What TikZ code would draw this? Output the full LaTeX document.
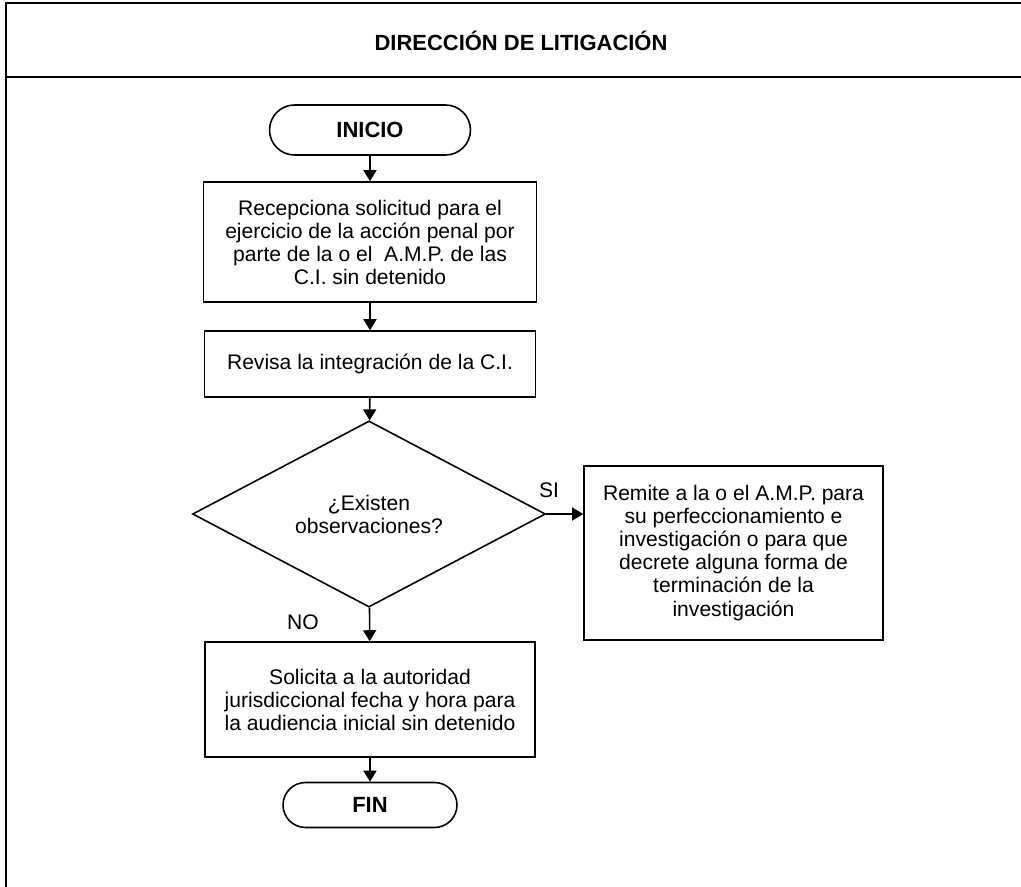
\documentclass[tikz,border=0pt]{standalone}
\usepackage{fontspec}
\setmainfont{Liberation Sans}
\usetikzlibrary{arrows.meta, positioning, shapes.geometric, shapes.misc}
\definecolor{inkline}{HTML}{000000}
\definecolor{inktext}{HTML}{000000}
\newcommand{\textsz}{\fontsize{12}{13.1}\selectfont}
\newcommand{\headsz}{\fontsize{12.5}{14}\selectfont\bfseries}

\begin{document}
\begin{tikzpicture}[x=0.02cm, y=-0.02cm, font=\textsz, text=inktext,
    procbox/.style={draw=inkline, line width=0.9pt, align=center, inner sep=0pt},
    termbox/.style={draw=inkline, line width=0.9pt, rounded rectangle, inner sep=0pt, font=\headsz},
    askbox/.style={draw=inkline, line width=0.9pt, diamond, align=center, inner sep=0pt},
    flow/.style={-{Triangle[length=0.22cm, width=0.26cm]}, inkline, line width=0.9pt}]
  \clip (0,0) rectangle (1021,886);
  % marco del area
  \draw[inkline, line width=1.3pt] (6,900) -- (6,3) -- (1040,3);
  \draw[inkline, line width=1.3pt] (6,77) -- (1040,77);
  \node[font=\headsz] (titulo) at (521,41) {DIRECCIÓN DE LITIGACIÓN};
  % pasos
  \node[termbox, minimum width=4.02cm, minimum height=1cm] (inicio) at (370,130) {INICIO};
  \node[procbox, minimum width=6.66cm, minimum height=2.4cm] (recibe) at (370,242)
    {Recepciona solicitud para el\\ejercicio de la acción penal por\\parte de la o el\ \ A.M.P. de las\\C.I. sin detenido};
  \node[procbox, minimum width=6.62cm, minimum height=1.32cm] (revisa) at (370,364)
    {Revisa la integración de la C.I.};
  \node[askbox, minimum width=7.06cm, minimum height=3.52cm] (existen) at (369,514)
    {¿Existen\\observaciones?};
  \node[procbox, minimum width=5.98cm, minimum height=3.48cm] (remite) at (733.5,553)
    {Remite a la o el A.M.P. para\\su perfeccionamiento e\\investigación o para que\\decrete alguna forma de\\terminación de la\\investigación};
  \node[procbox, minimum width=6.6cm, minimum height=2.3cm] (solicita) at (370,699.5)
    {Solicita a la autoridad\\jurisdiccional fecha y hora para\\la audiencia inicial sin detenido};
  \node[termbox, minimum width=3.48cm, minimum height=0.9cm] (fin) at (370,805) {FIN};
  % conectores
  \draw[flow] (inicio) -- (recibe);
  \draw[flow] (recibe) -- (revisa);
  \draw[flow] (revisa) -- (existen);
  \draw[flow] (existen.east) -- (existen.east -| remite.west);
  \draw[flow] (existen) -- (solicita);
  \draw[flow] (solicita) -- (fin);
  \node (si) at (549,490) {SI};
  \node (no) at (303,622) {NO};
\end{tikzpicture}
\end{document}
